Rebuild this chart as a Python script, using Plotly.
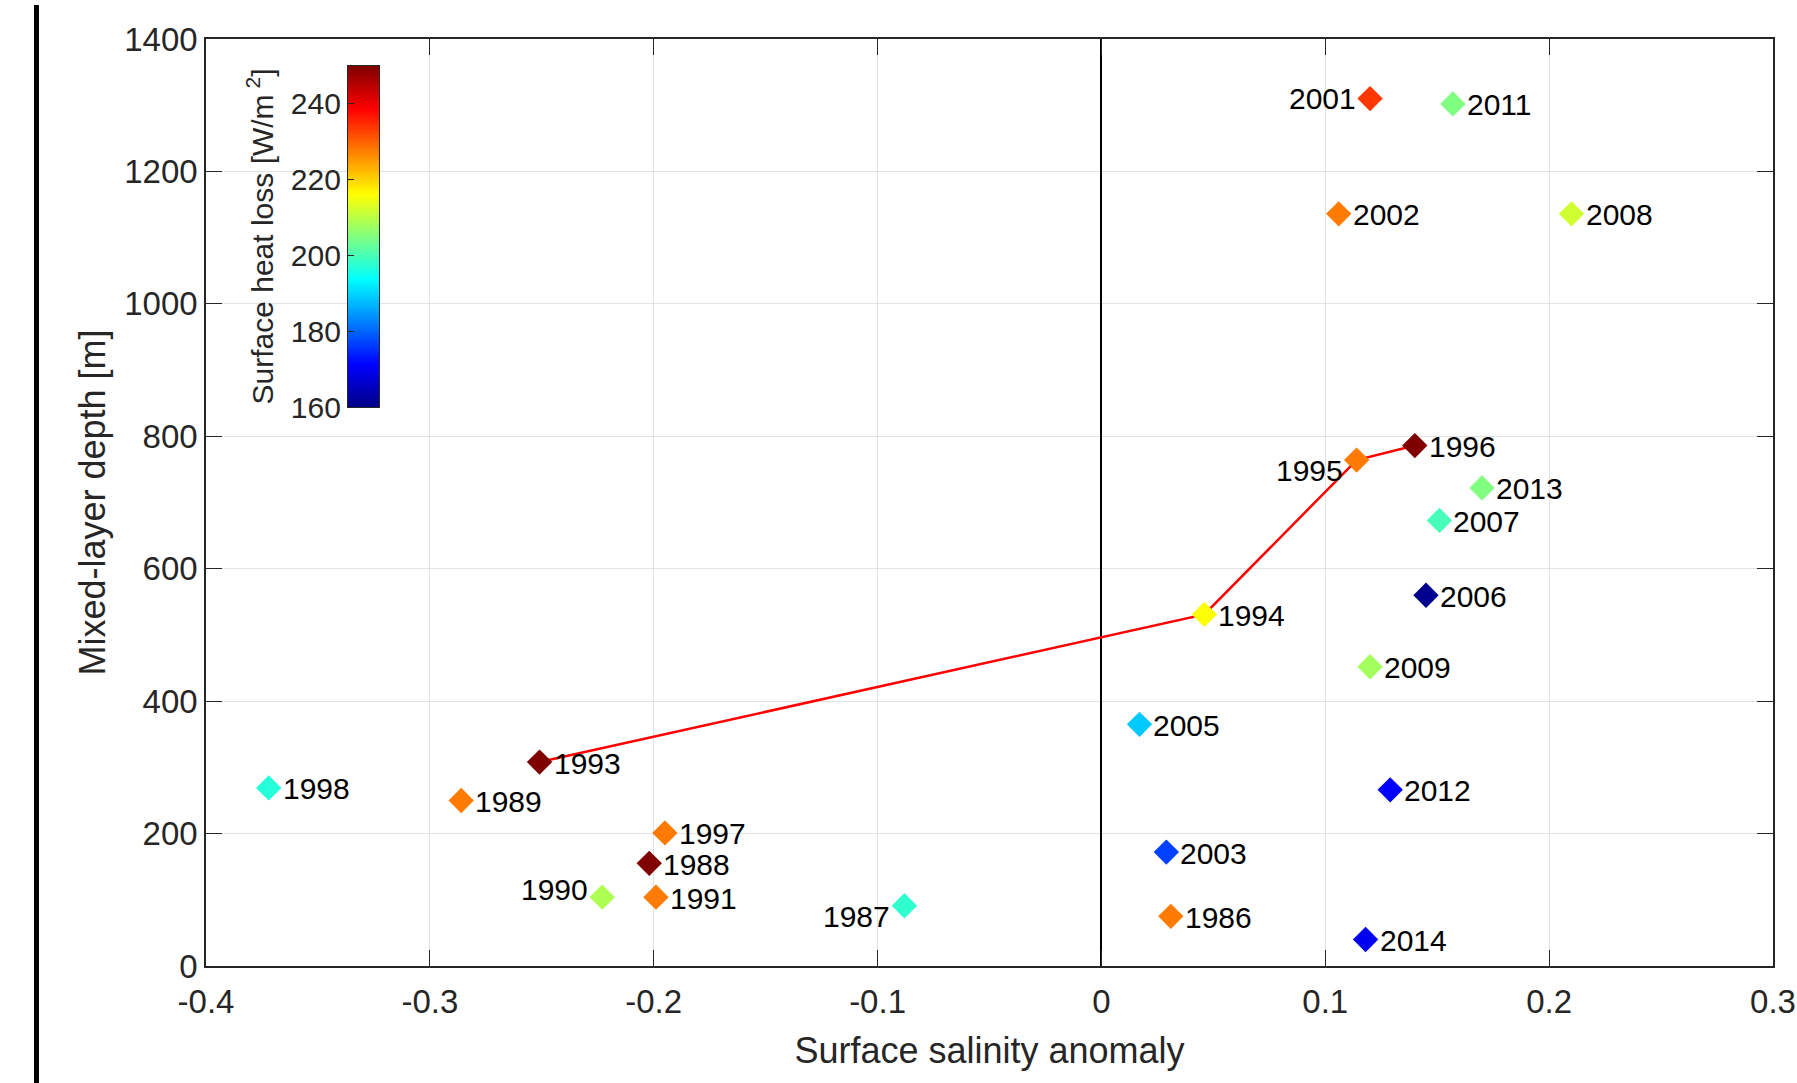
import plotly.graph_objects as go

# ---------------- data ----------------
years = [1986, 1987, 1988, 1989, 1990, 1991, 1993, 1994, 1995, 1996, 1997, 1998,
         2001, 2002, 2003, 2005, 2006, 2007, 2008, 2009, 2011, 2012, 2013, 2014]
salinity = [0.031, -0.088, -0.202, -0.286, -0.223, -0.199, -0.251, 0.046, 0.114, 0.140,
            -0.195, -0.372, 0.120, 0.106, 0.029, 0.017, 0.145, 0.151, 0.210, 0.120,
            0.157, 0.129, 0.170, 0.118]
mld = [75, 91, 155, 250, 104, 104, 308, 531, 764, 786, 201, 269,
       1310, 1136, 172, 365, 560, 673, 1136, 452, 1302, 266, 722, 40]
heat_loss = [228, 198, 250, 228, 209, 228, 250, 216, 228, 250, 228, 197,
             234, 228, 177, 189, 161, 200, 212, 208, 205, 171, 205, 170]

line_years = [1993, 1994, 1995, 1996]
left_label_years = [2001, 1995, 1990, 1987]
label_yshift = {1995: -10, 1990: 8, 1987: -11, 2001: 0}

x_ticks = [-0.4, -0.3, -0.2, -0.1, 0, 0.1, 0.2, 0.3]
x_ticktext = ["-0.4", "-0.3", "-0.2", "-0.1", "0", "0.1", "0.2", "0.3"]
y_ticks = [0, 200, 400, 600, 800, 1000, 1200, 1400]
cbar_ticks = [160, 180, 200, 220, 240]
cbar_range = [160, 250]

# ---------------- style ----------------
FONT = "Liberation Sans, Arial, Helvetica, sans-serif"
AXC = "#262626"
jet = [[0.0, "rgb(0,0,132)"], [0.125, "rgb(0,0,255)"], [0.375, "rgb(0,255,255)"],
       [0.625, "rgb(255,255,0)"], [0.875, "rgb(255,0,0)"], [1.0, "rgb(128,0,0)"]]

W, H = 1797, 1083
ml, mr, mt, mb = 206, 24, 39, 117
pw, ph = W - ml - mr, H - mt - mb

fig = go.Figure()

# red connecting line
lx = [salinity[years.index(yr)] for yr in line_years]
ly = [mld[years.index(yr)] for yr in line_years]
fig.add_trace(go.Scatter(x=lx, y=ly, mode="lines",
                         line=dict(color="#FF0000", width=2.5),
                         showlegend=False, hoverinfo="skip"))

# diamonds
fig.add_trace(go.Scatter(
    x=salinity, y=mld, mode="markers",
    marker=dict(symbol="diamond", size=19.5, color=heat_loss, colorscale=jet,
                cmin=cbar_range[0], cmax=cbar_range[1], showscale=False,
                line=dict(width=0)),
    text=[str(y) for y in years], showlegend=False, cliponaxis=False))

# year labels
for yr, xv, yv in zip(years, salinity, mld):
    left = yr in left_label_years
    fig.add_annotation(x=xv, y=yv, text=str(yr), showarrow=False,
                       xanchor="right" if left else "left", yanchor="middle",
                       xshift=-12 if left else 12,
                       yshift=label_yshift.get(yr, -1),
                       font=dict(family=FONT, size=30, color="black"))

# inset colour bar (heatmap on its own axes)
fig.add_trace(go.Heatmap(
    z=[[cbar_range[0], cbar_range[0]], [cbar_range[1], cbar_range[1]]],
    x=[0, 1], y=cbar_range, zsmooth="best", colorscale=jet,
    zmin=cbar_range[0], zmax=cbar_range[1], showscale=False,
    xaxis="x2", yaxis="y2", hoverinfo="skip"))

cb_x0, cb_x1 = (348 - ml) / pw, (379 - ml) / pw
cb_y0, cb_y1 = (mt + ph - 407) / ph, (mt + ph - 66) / ph

fig.update_layout(
    width=W, height=H,
    margin=dict(l=ml, r=mr, t=mt, b=mb, autoexpand=False),
    paper_bgcolor="white", plot_bgcolor="white",
    font=dict(family=FONT, color=AXC),
    xaxis=dict(
        domain=[0, 1], range=[-0.4, 0.3], tickvals=x_ticks, ticktext=x_ticktext,
        automargin=False,
        ticks="inside", ticklen=16, tickwidth=1.2, tickcolor=AXC,
        ticklabelstandoff=6,
        showline=True, linecolor=AXC, linewidth=1.5, mirror="ticks",
        showgrid=True, gridcolor="#E3E3E3", gridwidth=1,
        zeroline=True, zerolinecolor="black", zerolinewidth=2,
        tickfont=dict(size=33, color=AXC, family=FONT),
        title=dict(text="Surface salinity anomaly", font=dict(size=36, color=AXC, family=FONT),
                   standoff=18)),
    yaxis=dict(
        domain=[0, 1], range=[0, 1400], tickvals=y_ticks,
        automargin=False,
        ticks="inside", ticklen=16, tickwidth=1.2, tickcolor=AXC,
        showline=True, linecolor=AXC, linewidth=1.5, mirror="ticks",
        showgrid=True, gridcolor="#E3E3E3", gridwidth=1, zeroline=False,
        tickfont=dict(size=33, color=AXC, family=FONT),
        title=dict(text="Mixed-layer depth [m]", font=dict(size=36, color=AXC, family=FONT),
                   standoff=8)),
    xaxis2=dict(domain=[cb_x0, cb_x1], anchor="y2", range=[0, 1], automargin=False,
                showticklabels=False, ticks="", showgrid=False, zeroline=False,
                showline=True, linecolor=AXC, linewidth=1.2, mirror=True, fixedrange=True),
    yaxis2=dict(domain=[cb_y0, cb_y1], anchor="x2", range=cbar_range, side="left",
                automargin=False,
                tickvals=cbar_ticks, ticks="inside", ticklen=6, tickcolor=AXC,
                showgrid=False, zeroline=False,
                showline=True, linecolor=AXC, linewidth=1.2, mirror=True,
                tickfont=dict(size=30, color=AXC, family=FONT),
                title=dict(text="Surface heat loss [W/m<sup> 2</sup>]",
                           font=dict(size=30, color=AXC, family=FONT), standoff=8),
                fixedrange=True),
    shapes=[dict(type="rect", xref="paper", yref="paper",
                 x0=(34 - ml) / pw, x1=(39 - ml) / pw,
                 y0=(mt + ph - H) / ph, y1=(mt + ph - 5) / ph,
                 fillcolor="black", line=dict(width=0))],
)

fig.write_html("out.html")
